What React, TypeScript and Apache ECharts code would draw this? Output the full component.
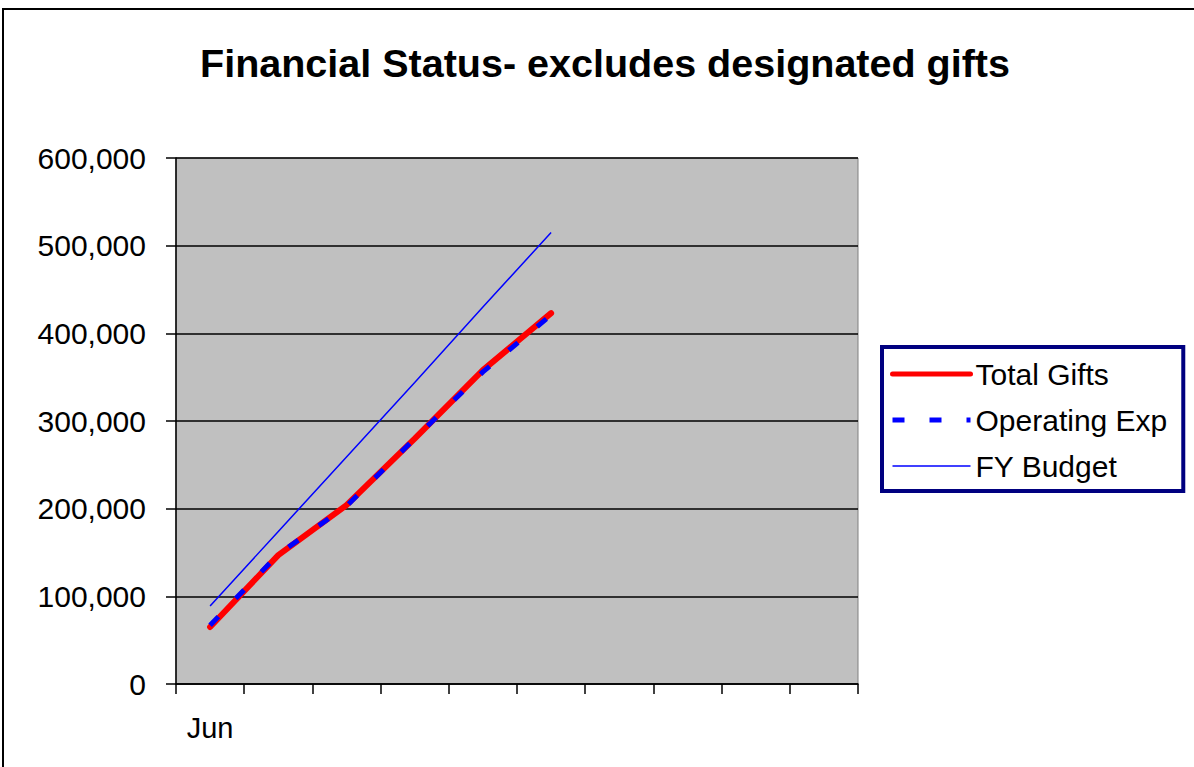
import React, { useEffect, useRef } from "react";
import * as echarts from "echarts";

const categories = ["Jun", "", "", "", "", "", "", "", "", ""];
const totalGifts = [65000, 147000, 204000, 280000, 358000, 423000];
const operatingExp = [67000, 148000, 203000, 280000, 356000, 421000];
const fyBudget = [89000, 174000, 259000, 344000, 430000, 515000];
const yTicks = { min: 0, max: 600000, interval: 100000 };

const FONT = "Arial, 'Liberation Sans', sans-serif";

export default function App() {
  const ref = useRef<HTMLDivElement>(null);
  useEffect(() => {
    document.body.style.margin = "0";
    const chart = echarts.init(ref.current!, undefined, { renderer: "svg" });
    chart.setOption({
      animation: false,
      backgroundColor: "#ffffff",
      title: {
        text: "Financial Status- excludes designated gifts",
        left: 600,
        textAlign: "center",
        top: 38,
        textStyle: { fontFamily: FONT, fontSize: 39.5, fontWeight: "bold", color: "#000" },
      },
      graphic: [
        {
          type: "rect",
          shape: { x: 3, y: 9, width: 1300, height: 900 },
          style: { fill: "none", stroke: "#000", lineWidth: 2 },
          z: 100,
        },
      ],
      grid: {
        left: 176,
        right: 336,
        top: 158,
        bottom: 83,
        show: true,
        backgroundColor: "#c0c0c0",
        borderColor: "#808080",
        borderWidth: 1,
      },
      legend: {
        orient: "vertical",
        left: 882,
        top: 347,
        padding: [12, 16, 10, 8],
        itemGap: 16,
        itemWidth: 78,
        itemHeight: 20,
        backgroundColor: "#fff",
        borderColor: "#000080",
        borderWidth: 4,
        itemStyle: { opacity: 0 },
        textStyle: { fontFamily: FONT, fontSize: 30, color: "#000", lineHeight: 28 },
        data: [
          { name: "Total Gifts", lineStyle: { width: 5 } },
          { name: "Operating Exp", lineStyle: { width: 5 } },
          { name: "FY Budget", lineStyle: { width: 1.5 } },
        ],
      },
      xAxis: {
        type: "category",
        data: categories,
        boundaryGap: true,
        axisLine: { lineStyle: { color: "#000", width: 1.5 } },
        axisTick: { show: true, length: 10, interval: 0, lineStyle: { color: "#000", width: 1.5 } },
        axisLabel: { interval: 0, margin: 29, fontFamily: FONT, fontSize: 29, color: "#000" },
        splitLine: { show: false },
      },
      yAxis: {
        type: "value",
        min: yTicks.min,
        max: yTicks.max,
        interval: yTicks.interval,
        axisLine: { show: true, lineStyle: { color: "#000", width: 1.5 } },
        axisTick: { show: true, length: 10, lineStyle: { color: "#000", width: 1.5 } },
        axisLabel: {
          margin: 30,
          fontFamily: FONT,
          fontSize: 30,
          color: "#000",
          formatter: (v: number) => v.toLocaleString("en-US"),
        },
        splitLine: { show: true, lineStyle: { color: "#000", width: 1.5 } },
      },
      series: [
        {
          name: "Total Gifts",
          type: "line",
          data: totalGifts,
          symbol: "none",
          lineStyle: { color: "#ff0000", width: 6, cap: "round" },
          itemStyle: { color: "#ff0000" },
          z: 2,
        },
        {
          name: "Operating Exp",
          type: "line",
          data: operatingExp,
          symbol: "none",
          lineStyle: { color: "#0000ff", width: 5, type: [12, 25], cap: "butt" },
          itemStyle: { color: "#0000ff" },
          z: 3,
        },
        {
          name: "FY Budget",
          type: "line",
          data: fyBudget,
          symbol: "none",
          lineStyle: { color: "#0000ff", width: 1.5 },
          itemStyle: { color: "#0000ff" },
          z: 4,
        },
      ],
    });
    return () => chart.dispose();
  }, []);
  return <div ref={ref} style={{ width: 1194, height: 767 }} />;
}
